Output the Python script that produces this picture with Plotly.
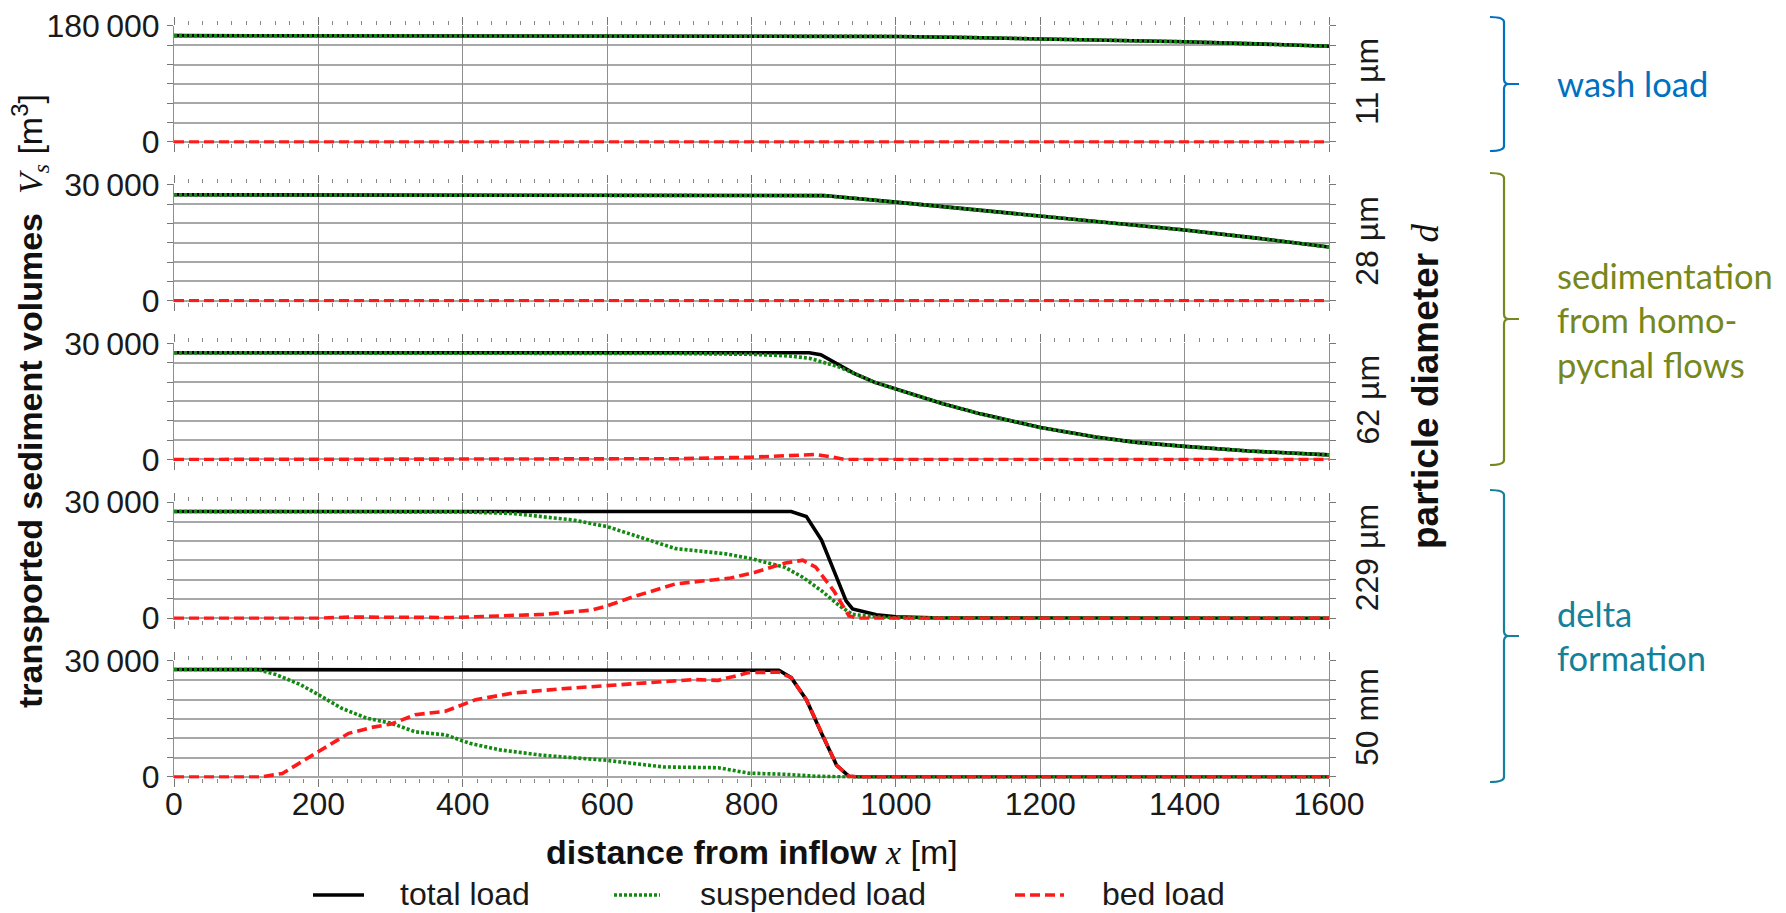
import plotly.graph_objects as go

# ---------------------------------------------------------------- data
# distance from inflow x [m] and transported volumes V_s [m3] per grain class
panel_names = ["11 µm", "28 µm", "62 µm", "229 µm", "50 mm"]
panel_ymax = [180000, 30000, 30000, 30000, 30000]
panel_ystep = [30000, 5000, 5000, 5000, 5000]
panel_top_labels = ["180\u2009000", "30\u2009000", "30\u2009000", "30\u2009000", "30\u2009000"]

# 11 µm
total_11_x = [0, 800, 900, 1000, 1100, 1200, 1300, 1400, 1500, 1600]
total_11 = [165000, 165000, 164800, 163800, 162200, 160200, 158000, 155500, 152300, 148500]
susp_11_x = total_11_x
susp_11 = total_11
bed_11_x = [0, 1600]
bed_11 = [0, 0]

# 28 µm
total_28_x = [0, 880, 900, 1000, 1100, 1200, 1300, 1400, 1500, 1600]
total_28 = [27400, 27400, 27200, 25500, 23700, 21900, 20100, 18300, 16200, 13900]
susp_28_x = total_28_x
susp_28 = total_28
bed_28_x = [0, 1600]
bed_28 = [0, 0]

# 62 µm
total_62_x = [0, 880, 896, 920, 942, 970, 1000, 1064, 1117, 1200, 1277, 1330, 1400, 1489, 1600]
total_62 = [27600, 27600, 27100, 24500, 22300, 20000, 18200, 14500, 11800, 8300, 5800, 4500, 3400, 2200, 1200]
susp_62_x = [0, 600, 700, 800, 850, 880, 896, 920, 942, 970, 1000, 1064, 1117, 1200, 1277, 1330, 1400, 1489, 1600]
susp_62 = [27600, 27500, 27400, 27200, 26800, 26200, 25400, 24000, 22300, 20000, 18200, 14500, 11800, 8300, 5800, 4500, 3400, 2200, 1200]
bed_62_x = [0, 600, 700, 800, 860, 889, 910, 930, 1600]
bed_62 = [0, 50, 200, 600, 1050, 1300, 700, 0, 0]

# 229 µm
total_229_x = [0, 855, 876, 897, 914, 931, 940, 973, 1000, 1050, 1600]
total_229 = [27600, 27600, 26300, 20200, 12400, 4500, 2400, 900, 400, 100, 0]
susp_229_x = [0, 400, 469, 553, 600, 637, 695, 763, 800, 846, 871, 897, 922, 940, 973, 1000, 1600]
susp_229 = [27600, 27500, 27100, 25400, 23700, 21500, 18000, 16700, 15400, 13200, 10600, 7100, 3200, 1000, 350, 100, 0]
bed_229_x = [0, 200, 242, 385, 435, 511, 578, 600, 637, 695, 746, 771, 805, 847, 871, 889, 914, 935, 948, 1600]
bed_229 = [0, 0, 300, 200, 500, 1000, 2100, 3200, 5600, 8900, 9900, 10400, 11900, 14300, 15000, 13200, 7100, 600, 0, 0]

# 50 mm
total_50_x = [0, 400, 450, 838, 855, 876, 897, 918, 935, 948, 1600]
total_50 = [27800, 27800, 27600, 27600, 25700, 20000, 11300, 3000, 200, 0, 0]
susp_50_x = [0, 116, 141, 175, 200, 232, 267, 301, 334, 376, 410, 452, 511, 600, 678, 754, 796, 846, 889, 931, 1600]
susp_50 = [27800, 27800, 26500, 23900, 21300, 17800, 15200, 13900, 11700, 10900, 8700, 7000, 5600, 4300, 2600, 2400, 1000, 700, 200, 0, 0]
bed_50_x = [0, 120, 150, 200, 242, 276, 301, 334, 376, 418, 469, 536, 600, 662, 720, 754, 796, 838, 855, 876, 897, 918, 935, 948, 1600]
bed_50 = [0, 0, 900, 6500, 11300, 12900, 13700, 16100, 17000, 20000, 21700, 22800, 23600, 24400, 25200, 25000, 27000, 27100, 25700, 20000, 11300, 3000, 200, 0, 0]

x_ticks = [0, 200, 400, 600, 800, 1000, 1200, 1400, 1600]

series_names = ["total load", "suspended load", "bed load"]
panels = [
    [(total_11_x, total_11), (susp_11_x, susp_11), (bed_11_x, bed_11)],
    [(total_28_x, total_28), (susp_28_x, susp_28), (bed_28_x, bed_28)],
    [(total_62_x, total_62), (susp_62_x, susp_62), (bed_62_x, bed_62)],
    [(total_229_x, total_229), (susp_229_x, susp_229), (bed_229_x, bed_229)],
    [(total_50_x, total_50), (susp_50_x, susp_50), (bed_50_x, bed_50)],
]

# ---------------------------------------------------------------- layout helpers
W, H = 1786, 913
PLOT_L, PLOT_R = 174, 1329
PANEL_TOPS = [26, 184.75, 343.5, 502.25, 661]
PANEL_H = 116
PAD_LO, PAD_HI = 0.012, 0.004

SANS = "Liberation Sans, Arial, Helvetica, sans-serif"
SERIF = "Liberation Serif, Times New Roman, serif"
NOTE_FONT = "Lato, Carlito, Calibri, sans-serif"

STYLES = {
    "total load": dict(color="#000000", width=3.6, dash="solid"),
    "suspended load": dict(color="#128a12", width=3.6, dash="3px,2px"),
    "bed load": dict(color="#ff1a1a", width=3.6, dash="10px,5px"),
}


def fx(p):
    return p / W


def fy(p):
    return 1 - p / H


fig = go.Figure()
layout = dict(
    width=W, height=H, autosize=False,
    margin=dict(l=0, r=0, t=0, b=0, pad=0, autoexpand=False),
    paper_bgcolor="white", plot_bgcolor="white",
    showlegend=False,
    font=dict(family=SANS, size=32, color="#1a1a1a"),
)

for i, (series, ymax, ystep, top_label) in enumerate(zip(panels, panel_ymax, panel_ystep, panel_top_labels)):
    n = i + 1
    xa = "x" if n == 1 else f"x{n}"
    ya = "y" if n == 1 else f"y{n}"
    for name, (xs, ys) in zip(series_names, series):
        fig.add_trace(go.Scatter(
            x=xs, y=ys, mode="lines", name=name, line=STYLES[name],
            xaxis=xa, yaxis=ya, hoverinfo="skip",
        ))

    top_px = PANEL_TOPS[i]
    bot_px = top_px + PANEL_H
    dom = [fy(bot_px + PAD_LO * PANEL_H), fy(top_px - PAD_HI * PANEL_H)]

    layout["xaxis" if n == 1 else f"xaxis{n}"] = dict(
        domain=[fx(PLOT_L), fx(PLOT_R)], range=[0, 1600], anchor=ya,
        tickvals=x_ticks, showticklabels=(n == 5), automargin=False,
        showgrid=True, gridcolor="#8e8e8e", gridwidth=1,
        ticks="outside", ticklen=8, tickwidth=1, tickcolor="#777",
        minor=dict(dtick=20, tick0=0, ticks="outside", ticklen=4, tickcolor="#888", showgrid=False),
        mirror="ticks", showline=False, zeroline=False,
        ticklabelstandoff=-11,
        tickfont=dict(size=32, family=SANS, color="#1a1a1a"),
        matches="x" if n > 1 else None,
    )
    # labelled ticks at 0 and the panel maximum, grid lines at every step
    layout["yaxis" if n == 1 else f"yaxis{n}"] = dict(
        domain=dom, range=[-PAD_LO * ymax, (1 + PAD_HI) * ymax], anchor=xa,
        tickvals=[0, ymax], ticktext=["0", top_label], automargin=False,
        showgrid=True, gridcolor="#a8a8a8", gridwidth=1.5,
        ticks="outside", ticklen=6, tickwidth=1, tickcolor="#777",
        minor=dict(dtick=ystep, tick0=0, ticks="outside", ticklen=6, tickcolor="#777",
                   showgrid=True, gridcolor="#a8a8a8", gridwidth=1.5),
        showline=True, linecolor="#8e8e8e", linewidth=1, mirror="ticks",
        zeroline=False, ticklabelstandoff=1,
        tickfont=dict(size=32, family=SANS, color="#1a1a1a"),
    )

annotations = []
shapes = []

# axis titles
annotations.append(dict(
    xref="paper", yref="paper", x=fx(30), y=fy(401), textangle=-90,
    showarrow=False, xanchor="center", yanchor="middle",
    font=dict(size=34, family=SANS, color="#111"),
    text=("<b>transported sediment volumes</b>  "
          f"<span style='font-family:{SERIF}'><i>V<sub>s</sub></i></span> [m<sup>3</sup>]"),
))
annotations.append(dict(
    xref="paper", yref="paper", x=fx(752), y=fy(852),
    showarrow=False, xanchor="center", yanchor="middle",
    font=dict(size=34, family=SANS, color="#111"),
    text=(f"<b>distance from inflow</b> <span style='font-family:{SERIF}'><i>x</i></span> [m]"),
))
annotations.append(dict(
    xref="paper", yref="paper", x=fx(1425), y=fy(387), textangle=-90,
    showarrow=False, xanchor="center", yanchor="middle",
    font=dict(size=37, family=SANS, color="#111"),
    text=(f"<b>particle diameter</b> <span style='font-family:{SERIF}'><i>d</i></span>"),
))

# grain-size labels on the right of each panel
for i, label in enumerate(panel_names):
    annotations.append(dict(
        xref="paper", yref="paper", x=fx(1367), y=fy(PANEL_TOPS[i] + PANEL_H / 2 - 2),
        textangle=-90, showarrow=False, xanchor="center", yanchor="middle",
        font=dict(size=32, family=SANS, color="#1a1a1a"), text=label,
    ))


# curly brackets grouping the grain classes
def bracket_path(x0, xv, xt, ytop, ybot, r=5):
    ym = (ytop + ybot) / 2
    pts = [
        ("M", [(x0, ytop)]),
        ("Q", [(xv, ytop), (xv, ytop + r)]),
        ("L", [(xv, ym - r)]),
        ("Q", [(xv, ym), (xv + r, ym)]),
        ("L", [(xt, ym)]),
        ("M", [(xv + r, ym)]),
        ("Q", [(xv, ym), (xv, ym + r)]),
        ("L", [(xv, ybot - r)]),
        ("Q", [(xv, ybot), (x0, ybot)]),
    ]
    out = []
    for cmd, coords in pts:
        out.append(cmd + " ".join(f"{fx(a):.5f},{fy(b):.5f}" for a, b in coords))
    return " ".join(out)


groups = [
    dict(color="#0070c0", top=17, bot=151, lines=["wash load"], line_y=[83]),
    dict(color="#76881d", top=173, bot=465, lines=["sedimentation", "from homo-", "pycnal flows"], line_y=[275, 319, 364]),
    dict(color="#15809a", top=490, bot=782, lines=["delta", "formation"], line_y=[613, 657]),
]
for g in groups:
    shapes.append(dict(
        type="path", xref="paper", yref="paper",
        path=bracket_path(1490, 1504, 1519, g["top"], g["bot"]),
        line=dict(color=g["color"], width=2.2),
    ))
    for txt, ly in zip(g["lines"], g["line_y"]):
        annotations.append(dict(
            xref="paper", yref="paper", x=fx(1555), y=fy(ly),
            xanchor="left", yanchor="middle", showarrow=False,
            font=dict(size=34.5, family=NOTE_FONT, color=g["color"]), text=txt,
        ))

# legend row below the x axis
legend_items = [("total load", 313, 364, 398), ("suspended load", 614, 660, 698), ("bed load", 1015, 1064, 1100)]
for name, xs0, xs1, xt in legend_items:
    st = STYLES[name]
    shapes.append(dict(
        type="line", xref="paper", yref="paper",
        x0=fx(xs0), x1=fx(xs1), y0=fy(895), y1=fy(895),
        line=dict(color=st["color"], width=st["width"], dash=st["dash"]),
    ))
    annotations.append(dict(
        xref="paper", yref="paper", x=fx(xt), y=fy(894),
        xanchor="left", yanchor="middle", showarrow=False,
        font=dict(size=32, family=SANS, color="#1a1a1a"), text=name,
    ))

layout["annotations"] = annotations
layout["shapes"] = shapes
fig.update_layout(**layout)

fig.write_html("out.html")
